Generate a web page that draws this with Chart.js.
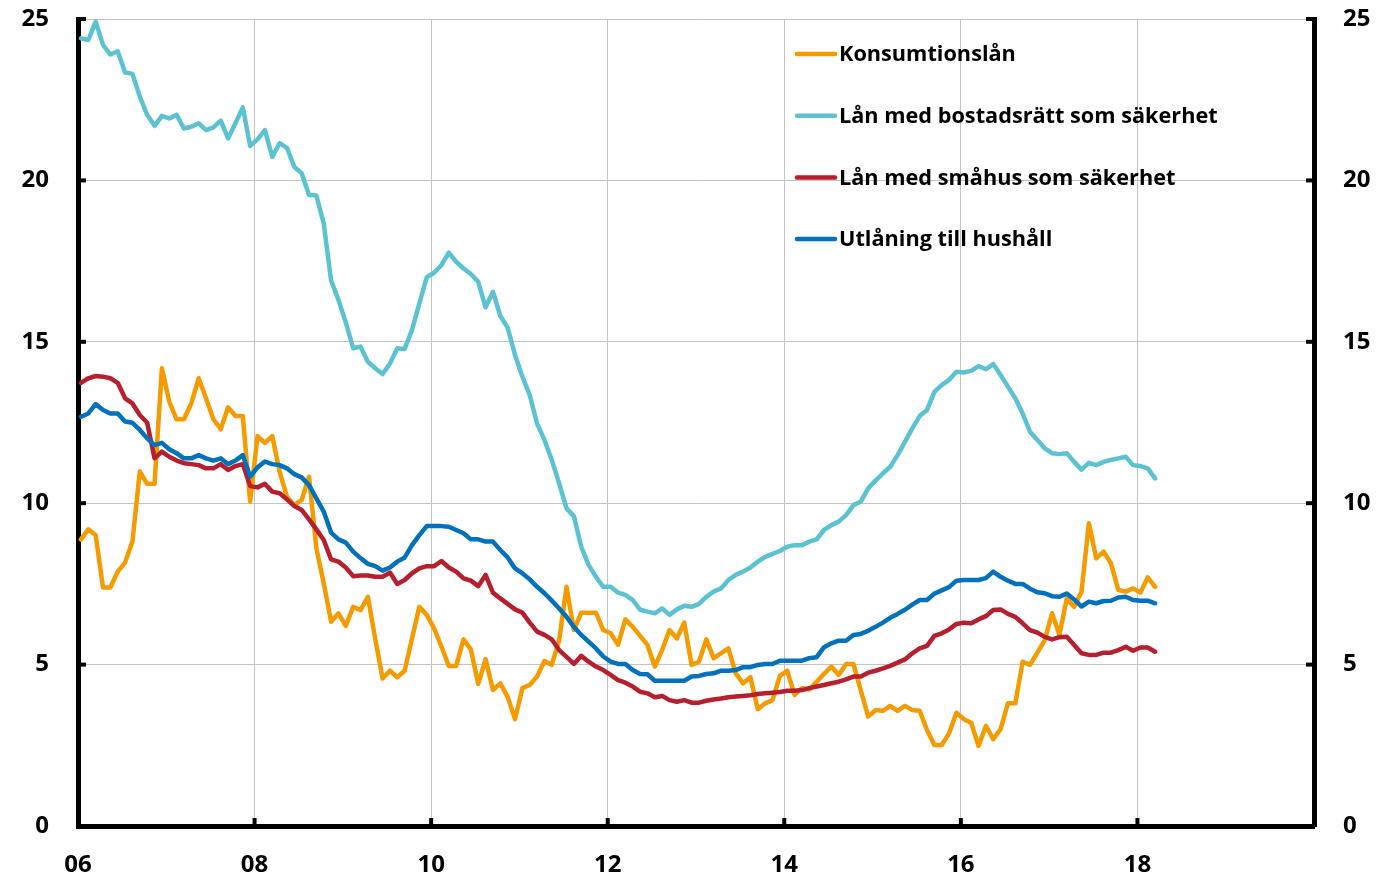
<!DOCTYPE html>
<html>
<head>
<meta charset="utf-8">
<script src="https://cdn.jsdelivr.net/npm/chart.js@4.4.1/dist/chart.umd.min.js"></script>
<style>
  html, body { margin: 0; padding: 0; background: #ffffff; }
  #wrap { position: relative; width: 1382px; height: 879px; }
</style>
</head>
<body>
<div id="wrap"><canvas id="c" width="1382" height="879"></canvas></div>
<script>
// ---- Data (monthly, starting January 2006) ----
const startYear = 2006;
const seriesNames = [
  'Konsumtionslån',
  'Lån med bostadsrätt som säkerhet',
  'Lån med småhus som säkerhet',
  'Utlåning till hushåll'
];
const seriesColors = ['#F59B00', '#5BC2D1', '#B61F2E', '#0071BA'];

const konsumtionslan = [
  8.88, 9.19, 9.01, 7.39, 7.39, 7.88, 8.16, 8.81, 10.98, 10.6, 10.6, 14.18,
  13.15, 12.6, 12.6, 13.09, 13.87, 13.25, 12.6, 12.29, 12.97, 12.7, 12.7, 10.05,
  12.08, 11.87, 12.08, 10.98, 10.2, 9.94, 10.1, 10.82, 8.6, 7.52, 6.33, 6.59,
  6.2, 6.79, 6.69, 7.1, 5.8, 4.57, 4.81, 4.61, 4.81, 5.81, 6.79, 6.54,
  6.12, 5.56, 4.96, 4.96, 5.78, 5.47, 4.4, 5.17, 4.21, 4.42, 4.0, 3.31,
  4.27, 4.37, 4.63, 5.11, 4.99, 5.76, 7.41, 6.07, 6.61, 6.61, 6.61, 6.07,
  5.97, 5.61, 6.4, 6.17, 5.89, 5.61, 4.94, 5.45, 6.07, 5.81, 6.3, 4.99,
  5.09, 5.78, 5.2, 5.35, 5.5, 4.73, 4.42, 4.61, 3.62, 3.8, 3.9, 4.65,
  4.81, 4.06, 4.27, 4.23, 4.47, 4.71, 4.94, 4.68, 5.02, 5.02, 4.2, 3.39,
  3.59, 3.57, 3.72, 3.57, 3.72, 3.59, 3.57, 2.97, 2.51, 2.51, 2.87, 3.51,
  3.31, 3.2, 2.48, 3.1, 2.69, 3.0, 3.8, 3.8, 5.09, 4.99, 5.37, 5.76,
  6.59, 5.92, 7.05, 6.79, 7.26, 9.38, 8.29, 8.5, 8.14, 7.31, 7.26, 7.36,
  7.23, 7.7, 7.41
];

const bostadsratt = [
  24.4, 24.35, 24.92, 24.2, 23.9, 24.0, 23.34, 23.3, 22.6, 22.03, 21.69, 22.0,
  21.92, 22.03, 21.61, 21.66, 21.77, 21.56, 21.64, 21.85, 21.3, 21.77, 22.26, 21.07,
  21.27, 21.56, 20.73, 21.15, 21.01, 20.42, 20.22, 19.55, 19.53, 18.67, 16.9, 16.3,
  15.6, 14.8, 14.85, 14.38, 14.18, 14.0, 14.33, 14.8, 14.78, 15.37, 16.19, 17.0,
  17.14, 17.38, 17.76, 17.48, 17.27, 17.1, 16.86, 16.07, 16.55, 15.8, 15.44, 14.59,
  13.92, 13.35, 12.47, 11.96, 11.34, 10.61, 9.84, 9.6, 8.65, 8.09, 7.72, 7.41,
  7.41, 7.23, 7.16, 7.0, 6.7, 6.64, 6.59, 6.74, 6.54, 6.71, 6.82, 6.79,
  6.88, 7.1, 7.26, 7.36, 7.62, 7.78, 7.88, 8.01, 8.19, 8.34, 8.43, 8.52,
  8.65, 8.7, 8.7, 8.81, 8.88, 9.17, 9.32, 9.43, 9.63, 9.94, 10.05, 10.46,
  10.7, 10.92, 11.13, 11.49, 11.9, 12.32, 12.7, 12.89, 13.45, 13.66, 13.82, 14.07,
  14.05, 14.1, 14.25, 14.15, 14.31, 13.97, 13.61, 13.25, 12.78, 12.21, 11.96, 11.7,
  11.55, 11.52, 11.55, 11.28, 11.04, 11.25, 11.18, 11.28, 11.34, 11.39, 11.44, 11.18,
  11.15, 11.08, 10.77
];

const smahus = [
  13.73, 13.87, 13.94, 13.92, 13.87, 13.73, 13.25, 13.09, 12.73, 12.49, 11.39, 11.6,
  11.44, 11.32, 11.24, 11.21, 11.18, 11.08, 11.08, 11.21, 11.03, 11.15, 11.21, 10.53,
  10.49, 10.6, 10.36, 10.31, 10.12, 9.91, 9.79, 9.5, 9.19, 8.86, 8.26, 8.19,
  8.01, 7.74, 7.76, 7.76, 7.72, 7.72, 7.85, 7.5, 7.62, 7.83, 7.98, 8.05,
  8.05, 8.21, 8.01, 7.88, 7.67, 7.6, 7.43, 7.78, 7.23, 7.05, 6.88, 6.71,
  6.61, 6.3, 6.02, 5.92, 5.78, 5.45, 5.24, 5.02, 5.27, 5.09, 4.94, 4.83,
  4.68, 4.52, 4.44, 4.32, 4.16, 4.11, 3.99, 4.03, 3.9, 3.85, 3.9, 3.82,
  3.82, 3.88, 3.92, 3.95, 3.99, 4.01, 4.03, 4.05, 4.09, 4.11, 4.13, 4.15,
  4.19, 4.19, 4.21, 4.27, 4.32, 4.37, 4.42, 4.47, 4.54, 4.63, 4.63, 4.75,
  4.81, 4.88, 4.96, 5.06, 5.16, 5.35, 5.5, 5.58, 5.89, 5.97, 6.09, 6.26,
  6.3, 6.28, 6.4, 6.5, 6.69, 6.71, 6.57, 6.48, 6.28, 6.07, 5.99, 5.86,
  5.78, 5.85, 5.86, 5.61, 5.35, 5.3, 5.3, 5.37, 5.37, 5.45, 5.55, 5.43,
  5.53, 5.53, 5.4
];

const utlaning = [
  12.68, 12.78, 13.07, 12.89, 12.78, 12.78, 12.53, 12.49, 12.27, 12.01, 11.8, 11.87,
  11.67, 11.55, 11.39, 11.39, 11.49, 11.39, 11.32, 11.39, 11.21, 11.32, 11.49, 10.82,
  11.11, 11.29, 11.21, 11.18, 11.08, 10.9, 10.8, 10.56, 10.15, 9.74, 9.09, 8.88,
  8.78, 8.5, 8.3, 8.12, 8.05, 7.91, 8.01, 8.19, 8.32, 8.7, 9.01, 9.29,
  9.29, 9.29, 9.27, 9.17, 9.07, 8.88, 8.88, 8.81, 8.81, 8.55, 8.32, 7.98,
  7.83, 7.64, 7.41, 7.21, 6.98, 6.74, 6.48, 6.17, 5.92, 5.71, 5.5, 5.25,
  5.09, 5.02, 5.02, 4.83, 4.71, 4.7, 4.5, 4.5, 4.5, 4.5, 4.5, 4.63,
  4.65, 4.71, 4.73, 4.81, 4.81, 4.83, 4.92, 4.92, 4.99, 5.02, 5.02, 5.12,
  5.12, 5.12, 5.12, 5.2, 5.23, 5.54, 5.66, 5.74, 5.74, 5.92, 5.95, 6.05,
  6.17, 6.3, 6.45, 6.57, 6.7, 6.86, 7.0, 7.0, 7.2, 7.3, 7.4, 7.6,
  7.62, 7.62, 7.62, 7.68, 7.88, 7.72, 7.6, 7.5, 7.5, 7.35, 7.24, 7.21,
  7.12, 7.1, 7.2, 7.02, 6.8, 6.95, 6.9, 6.97, 6.98, 7.08, 7.1, 7.0,
  6.98, 6.98, 6.9
];

const xTickYears = [2006, 2008, 2010, 2012, 2014, 2016, 2018, 2020];
const yTicks = [0, 5, 10, 15, 20, 25];

// ---- Build chart ----
const monthOffset = 0.4; // position of a monthly observation within its month
function toPoints(values) {
  return values.map((v, i) => ({ x: startYear + (i + monthOffset) / 12, y: v }));
}
const allSeries = [konsumtionslan, bostadsratt, smahus, utlaning];
const drawOrder = [3, 2, 1, 0]; // Utlåning drawn on top

const datasets = allSeries.map((vals, k) => ({
  label: seriesNames[k],
  data: toPoints(vals),
  borderColor: seriesColors[k],
  backgroundColor: seriesColors[k],
  borderWidth: 4.5,
  pointRadius: 0,
  tension: 0,
  borderJoinStyle: 'round',
  borderCapStyle: 'round',
  order: drawOrder[k],
  yAxisID: 'y'
}));

const FAMILY = '"Open Sans", "Liberation Sans", sans-serif';
const TICK_FONT = { family: FAMILY, size: 24, weight: 'bold' };
const LEGEND_FONT = { family: FAMILY, size: 21.7, weight: 'bold' };

function noPad(s) { s.paddingTop = 0; s.paddingBottom = 0; s.paddingLeft = 0; s.paddingRight = 0; }

// inward tick marks
const innerTicks = {
  id: 'innerTicks',
  afterDraw(chart) {
    const ctx = chart.ctx;
    const ca = chart.chartArea;
    const L = 8;
    ctx.save();
    ctx.strokeStyle = '#000';
    ctx.lineWidth = 4;
    ctx.lineCap = 'butt';
    const ys = chart.scales.y;
    yTicks.forEach(v => {
      const py = ys.getPixelForValue(v);
      ctx.beginPath(); ctx.moveTo(ca.left, py); ctx.lineTo(ca.left + L, py); ctx.stroke();
      ctx.beginPath(); ctx.moveTo(ca.right, py); ctx.lineTo(ca.right - L, py); ctx.stroke();
    });
    const xs = chart.scales.x;
    xTickYears.forEach(v => {
      const px = xs.getPixelForValue(v);
      ctx.beginPath(); ctx.moveTo(px, ca.bottom); ctx.lineTo(px, ca.bottom - L); ctx.stroke();
    });
    ctx.restore();
  }
};

// legend drawn inside the plot area
const insideLegend = {
  id: 'insideLegend',
  afterDraw(chart) {
    const ctx = chart.ctx;
    const x0 = 797, x1 = 835, tx = 839, y0 = 54, dy = 61.7;
    ctx.save();
    ctx.font = `${LEGEND_FONT.weight} ${LEGEND_FONT.size}px ${LEGEND_FONT.family}`;
    ctx.textBaseline = 'middle';
    ctx.textAlign = 'left';
    seriesNames.forEach((name, k) => {
      const y = y0 + k * dy;
      ctx.strokeStyle = seriesColors[k];
      ctx.lineWidth = 4.5;
      ctx.lineCap = 'round';
      ctx.beginPath(); ctx.moveTo(x0, y); ctx.lineTo(x1, y); ctx.stroke();
      ctx.fillStyle = '#000';
      ctx.fillText(name, tx, y + 1);
    });
    ctx.restore();
  }
};

function draw() {
  Chart.defaults.font.family = FAMILY;
  Chart.defaults.font.size = 24;
  Chart.defaults.font.weight = 'bold';
  Chart.defaults.color = '#000';

  new Chart(document.getElementById('c'), {
    type: 'line',
    data: { datasets },
    options: {
      responsive: false,
      animation: false,
      devicePixelRatio: 1,
      layout: { padding: { top: 19, left: 0, right: 0, bottom: 0 } },
      plugins: { legend: { display: false }, tooltip: { enabled: false } },
      scales: {
        x: {
          type: 'linear',
          min: 2006, max: 2020,
          afterFit(s) { s.height = 53; noPad(s); },
          afterBuildTicks(s) { s.ticks = xTickYears.map(v => ({ value: v })); },
          ticks: {
            padding: 25,
            maxRotation: 0,
            autoSkip: false,
            callback: v => (v >= 2020 ? '' : String(v % 100).padStart(2, '0')),
            font: TICK_FONT, color: '#000'
          },
          grid: { color: '#c3c3c3', lineWidth: 1, drawTicks: false },
          border: { display: true, color: '#000', width: 5 }
        },
        y: {
          position: 'left',
          min: 0, max: 25,
          afterFit(s) { s.width = 78; noPad(s); },
          afterBuildTicks(s) { s.ticks = yTicks.map(v => ({ value: v })); },
          ticks: { padding: 29, font: TICK_FONT, color: '#000' },
          grid: { color: '#c3c3c3', lineWidth: 1, drawTicks: false },
          border: { display: true, color: '#000', width: 5 }
        },
        y2: {
          position: 'right',
          display: true,
          min: 0, max: 25,
          afterFit(s) { s.width = 68; noPad(s); },
          afterBuildTicks(s) { s.ticks = yTicks.map(v => ({ value: v })); },
          ticks: { padding: 29, font: TICK_FONT, color: '#000' },
          grid: { display: false, drawTicks: false },
          border: { display: true, color: '#000', width: 5 }
        }
      }
    },
    plugins: [innerTicks, insideLegend]
  });
}

if (document.fonts && document.fonts.load) {
  document.fonts.load('bold 24px "Open Sans"').then(draw, draw);
} else {
  draw();
}
</script>
</body>
</html>
